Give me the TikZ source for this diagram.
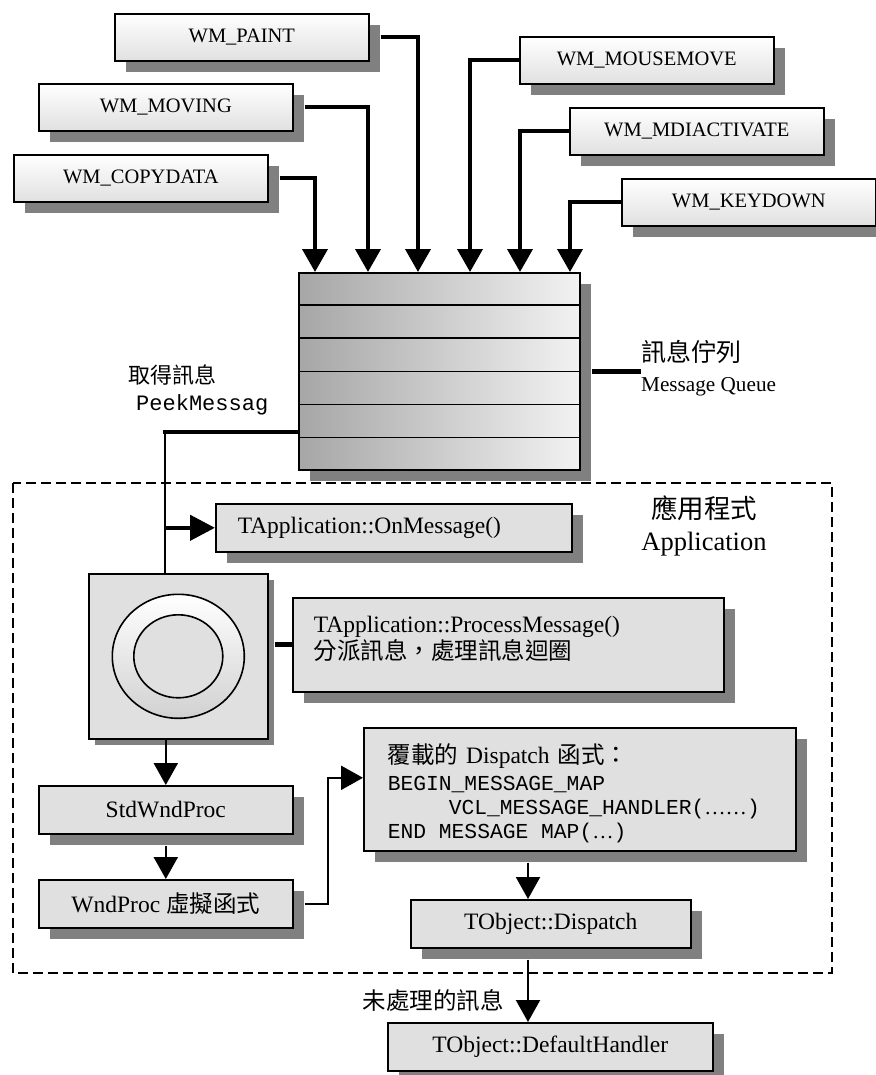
\documentclass[tikz,border=0pt]{standalone}
\usepackage{fontspec}
\setmainfont{Liberation Serif}
\setmonofont{Liberation Mono}
\newfontfamily\cjk{Noto Sans CJK TC}
\usetikzlibrary{arrows.meta,calc,shadows}
\definecolor{BoxGray}{HTML}{E0E0E0}
\definecolor{ShadowGray}{HTML}{808080}
\definecolor{QueueDark}{HTML}{A6A6A6}
\definecolor{QueueLight}{HTML}{F2F2F2}
\newcommand{\msgfont}{\fontsize{20.5pt}{24pt}\selectfont}
\newcommand{\boxfont}{\fontsize{23.5pt}{28pt}\selectfont}
\newcommand{\zhfont}{\cjk\fontsize{23.5pt}{28pt}\selectfont}
\newcommand{\codefont}{\ttfamily\fontsize{21.3pt}{24pt}\selectfont}
\newcommand{\codesp}{\hspace*{12.8pt}}

\begin{document}
\begin{tikzpicture}[x=1pt,y=-1pt,
  wmbox/.style={draw,line width=1.6pt,top color=white,bottom color=black!12,
    drop shadow={shadow xshift=11pt,shadow yshift=-11pt,fill=ShadowGray,opacity=1},
    minimum width=254pt,minimum height=47pt,anchor=north west,
    font=\msgfont,inner sep=0pt},
  graybox/.style={draw,line width=1.6pt,fill=BoxGray,
    drop shadow={shadow xshift=11pt,shadow yshift=-11pt,fill=ShadowGray,opacity=1},
    minimum height=48pt,anchor=north west,font=\boxfont,inner sep=0pt},
  feed/.style={line width=4pt,-{Triangle[length=23pt,width=25pt]}},
  flow/.style={line width=2.2pt,-{Triangle[length=22pt,width=24pt]}}]
  \useasboundingbox (0,0) rectangle (875,1075);
  % application frame
  \draw[line width=1.6pt,dash pattern=on 10pt off 5pt] (13,483) rectangle (832,973);
  \node[align=center,inner sep=0pt,font=\fontsize{26.5pt}{32pt}\selectfont]
    (applbl) at (704,526) {{\cjk 應用程式}\\Application};
  % incoming messages
  \node[wmbox] (paint) at (114,13) {WM\_PAINT};
  \node[wmbox] (moving) at (38,83) {WM\_MOVING};
  \node[wmbox] (copydata) at (13,154) {WM\_COPYDATA};
  \node[wmbox] (mousemove) at (519,36) {WM\_MOUSEMOVE};
  \node[wmbox] (mdiact) at (569,107) {WM\_MDIACTIVATE};
  \node[wmbox] (keydown) at (621,178) {WM\_KEYDOWN};
  % queue
  \node[draw,line width=1.6pt,left color=QueueDark,right color=QueueLight,
        drop shadow={shadow xshift=11pt,shadow yshift=-11pt,fill=ShadowGray,opacity=1},
        minimum width=281pt,minimum height=197pt,anchor=north west,inner sep=0pt]
    (queue) at (298,272) {};
  \foreach \k in {1,...,5}
    \draw[line width=1.6pt] ($(queue.north west)!\k/6!(queue.south west)$)
      -- ($(queue.north east)!\k/6!(queue.south east)$);
  \draw[feed] ([xshift=11pt]copydata.east) -| ($(queue.north west)+(17,0)$);
  \draw[feed] ([xshift=11pt]moving.east) -| ($(queue.north west)+(70,0)$);
  \draw[feed] ([xshift=11pt]paint.east) -| ($(queue.north west)+(120,0)$);
  \draw[feed] (mousemove.west) -| ($(queue.north west)+(172,0)$);
  \draw[feed] (mdiact.west) -| ($(queue.north west)+(222,0)$);
  \draw[feed] (keydown.west) -| ($(queue.north west)+(272,0)$);
  \node[anchor=west,align=left,inner sep=0pt,font=\fontsize{21.2pt}{30pt}\selectfont]
    (qlabel) at (641,368) {{\cjk\fontsize{25pt}{30pt}\selectfont 訊息佇列}\\Message Queue};
  \draw[line width=5pt] (queue.east) ++(11,0) -- (qlabel.west |- queue.east);
  \node[anchor=west,align=left,inner sep=0pt,font=\fontsize{22pt}{27pt}\selectfont]
    (peeklbl) at (128,390)
    {{\cjk 取得訊息}\\{\ttfamily\hspace*{8pt}PeekMessag}};
  % message loop
  \node[draw,line width=1.6pt,fill=BoxGray,
        drop shadow={shadow xshift=6pt,shadow yshift=-6pt,fill=ShadowGray,opacity=1},
        minimum width=179pt,minimum height=165pt,anchor=north west,inner sep=0pt]
    (loop) at (88,573) {};
  \draw[line width=1.6pt,top color=white,bottom color=black!18]
    (loop.center) ellipse [x radius=66,y radius=62];
  \draw[line width=1.6pt,fill=BoxGray]
    (loop.center) ellipse [x radius=44.5,y radius=41.5];
  \node[graybox,minimum width=356pt,text width=312pt,inner xsep=22pt,align=left]
    (onmsg) at (215,503) {TApplication::OnMessage()};
  \node[graybox,minimum width=431pt,minimum height=94pt,text width=389pt,
        inner xsep=21pt,align=left,font=\fontsize{23.5pt}{25pt}\selectfont,text depth=40pt]
    (procmsg) at (292,597) {TApplication::ProcessMessage()\\{\zhfont 分派訊息，處理訊息迴圈}};
  \coordinate (peek) at (165,432);
  \draw[line width=4.5pt,line cap=rect] (peek -| queue.west) -- (peek);
  \draw[line width=2.5pt] (peek) -- (peek |- loop.north);
  \draw[line width=4.5pt,-{Triangle[length=25pt,width=25pt]}]
    (peek |- onmsg.west) -- (onmsg.west);
  \draw[line width=5pt] (procmsg.west -| loop.east) ++(6,0) -- (procmsg.west);
  % window procedures
  \node[graybox,minimum width=254pt] (stdwnd) at (38,785) {StdWndProc};
  \node[graybox,minimum width=254pt] (wndproc) at (38,879) {WndProc {\zhfont 虛擬函式}};
  \node[graybox,minimum width=432pt,minimum height=123pt,text width=384pt,
        inner xsep=24pt,align=left,font=\fontsize{23.5pt}{24pt}\selectfont,text depth=72pt]
    (dispmap) at (363,727)
    {{\zhfont 覆載的} Dispatch {\zhfont 函式：}\\[3pt]
     {\codefont BEGIN\_MESSAGE\_MAP}\\
     {\codefont\hspace*{61pt}VCL\_MESSAGE\_HANDLER({\rmfamily ……})}\\
     {\codefont END\codesp MESSAGE\codesp MAP({\rmfamily …})}};
  \node[graybox,minimum width=280pt] (tdisp) at (410,899) {TObject::Dispatch};
  \node[graybox,minimum width=325pt] (defhandler) at (387,1022) {TObject::DefaultHandler};
  \node[anchor=east,font=\zhfont,inner sep=0pt] (unhandled) at (504,1000) {未處理的訊息};
  \draw[flow] (stdwnd.north |- loop.south) -- (stdwnd.north);
  \draw[flow] (stdwnd.south) ++(0,11) -- (wndproc.north);
  \draw[flow] (wndproc.east) ++(11,0) -- ++(23,0) |- ([yshift=11.5pt]dispmap.west);
  \coordinate (dcol) at (528,0);
  \draw[flow] (dcol |- dispmap.south) ++(0,11) -- (dcol |- tdisp.north);
  \draw[flow] (dcol |- tdisp.south) ++(0,11) -- (dcol |- defhandler.north);
\end{tikzpicture}
\end{document}
